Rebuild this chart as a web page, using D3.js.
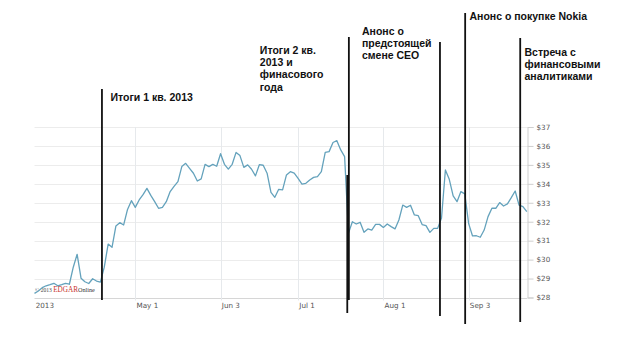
<!DOCTYPE html>
<html>
<head>
<meta charset="utf-8">
<script src="https://cdn.jsdelivr.net/npm/d3@7"></script>
<style>
  html, body { margin: 0; padding: 0; background: #fff; }
  svg { display: block; }
</style>
</head>
<body>
<svg id="chart" width="640" height="346"></svg>
<script>
// MSFT daily closing prices, one value per trading day (late March - late September 2013)
const prices = [
  28.22, 28.34, 28.52, 28.62, 28.68, 28.75, 28.62, 28.68, 28.75, 28.70,
  29.60, 30.28, 29.02, 28.83, 28.74, 28.99, 28.87, 28.81, 29.60, 30.82,
  30.65, 31.78, 31.95, 31.83, 32.65, 33.11, 32.76, 33.15, 33.43, 33.76,
  33.39, 33.06, 32.71, 32.76, 33.06, 33.59, 33.87, 34.12, 34.91, 35.08,
  34.82, 34.56, 34.15, 34.26, 35.03, 34.91, 35.03, 34.93, 35.59, 35.03,
  34.78, 35.03, 35.66, 35.49, 34.87, 35.00, 34.77, 34.42, 35.01, 34.98,
  34.56, 33.55, 33.29, 33.71, 33.68, 34.47, 34.64, 34.56, 34.29, 33.99,
  34.03, 34.20, 34.34, 34.38, 34.64, 35.66, 35.70, 36.18, 36.28, 35.79,
  35.44, 31.40, 32.00, 31.88, 31.97, 31.44, 31.62, 31.56, 31.86, 31.86,
  31.70, 31.88, 31.74, 31.62, 32.09, 32.88, 32.76, 32.87, 32.36, 32.32,
  31.85, 31.79, 31.44, 31.65, 31.65, 32.20, 34.73, 34.24, 33.36, 33.06,
  33.59, 33.47, 31.90, 31.25, 31.26, 31.18, 31.56, 32.27, 32.71, 32.71,
  33.01, 32.83, 32.94, 33.27, 33.62, 32.88, 32.80, 32.53
];

// Date axis: trading-day index of each labelled tick
const tickIndex  = [0, 26, 48, 68, 90, 112];
const tickLabels = ["2013", "May 1", "Jun 3", "Jul 1", "Aug 1", "Sep 3"];

// Price axis ticks (dollars)
const priceTicks = [28, 29, 30, 31, 32, 33, 34, 35, 36, 37];

// Event markers: trading-day position and caption lines
const eventIndex = [17.4, 81.1, 104.6, 111.1, 125.3];
const eventLabels = [
  ["Итоги 1 кв. 2013"],
  ["Итоги 2 кв.", "2013 и", "финасового", "года"],
  ["Анонс о", "предстоящей", "смене CEO"],
  ["Анонс о покупке Nokia"],
  ["Встреча с", "финансовыми", "аналитиками"]
];

// Drawing layout for the event markers (pixels)
const eventLayout = [
  { top: 89, bottom: 300, dx: 8.5,  baseline: 101,  extra: null },
  { top: 37, bottom: 300, dx: -89,  baseline: 54,   extra: { dx: -1.6, top: 175, bottom: 313 } },
  { top: 42, bottom: 316, dx: -78,  baseline: 34.5, extra: null },
  { top: 13, bottom: 324, dx: 4.3,  baseline: 19.5, extra: null },
  { top: 38, bottom: 322, dx: 4.3,  baseline: 55.5, extra: null }
];

const plot = { left: 34.5, right: 526.8, top: 127, bottom: 297.5 };

const svg = d3.select("#chart");

const x = d3.scaleLinear().domain([0, prices.length - 1]).range([plot.left, plot.right]);
const y = d3.scaleLinear().domain([28, 37]).range([plot.bottom, plot.top]);

// Horizontal grid
svg.append("g")
  .selectAll("line")
  .data(priceTicks)
  .join("line")
  .attr("x1", plot.left)
  .attr("x2", plot.right + 0.5)
  .attr("y1", d => Math.round(y(d)) + 0.5)
  .attr("y2", d => Math.round(y(d)) + 0.5)
  .attr("stroke", (d, i) => i === 0 ? "#d6d6d6" : "#ececec")
  .attr("stroke-width", 1);

// Vertical grid at month ticks
svg.append("g")
  .selectAll("line")
  .data(tickIndex.slice(1))
  .join("line")
  .attr("x1", d => Math.round(x(d)) + 0.5)
  .attr("x2", d => Math.round(x(d)) + 0.5)
  .attr("y1", plot.top)
  .attr("y2", plot.bottom + 3)
  .attr("stroke", "#e6e9ec")
  .attr("stroke-width", 1);

// Date labels
svg.append("g")
  .selectAll("text")
  .data(tickIndex)
  .join("text")
  .attr("x", d => x(d) + 1.2)
  .attr("y", 308)
  .attr("font-family", "DejaVu Sans, Verdana, sans-serif")
  .attr("font-size", 7.2)
  .attr("fill", "#555")
  .text((d, i) => tickLabels[i]);

// Right price axis
const yAxis = d3.axisRight(y)
  .tickValues(priceTicks)
  .tickSize(6)
  .tickPadding(3)
  .tickFormat(d => "$" + d);

const yAxisG = svg.append("g")
  .attr("transform", `translate(${Math.round(plot.right) + 0.5},0)`)
  .call(yAxis);
yAxisG.select(".domain").attr("stroke", "#cfcfcf");
yAxisG.selectAll(".tick line").attr("stroke", "#cfcfcf");
yAxisG.selectAll(".tick text")
  .attr("font-family", "DejaVu Sans, Verdana, sans-serif")
  .attr("font-size", 7.2)
  .attr("fill", "#555");

// Source credit
const credit = svg.append("text")
  .attr("x", plot.left + 0.5)
  .attr("y", 292)
  .attr("font-family", "Liberation Serif, Times New Roman, serif");
credit.append("tspan").attr("font-size", 5.6).attr("fill", "#444").text("© 2013 ");
credit.append("tspan").attr("font-size", 7.2).attr("fill", "#c8322d").text("EDGAR");
credit.append("tspan").attr("font-size", 6.2).attr("fill", "#333").text("Online");

// Price line
const line = d3.line()
  .x((d, i) => x(i))
  .y(d => y(d));

svg.append("path")
  .datum(prices)
  .attr("d", line)
  .attr("fill", "none")
  .attr("stroke", "#64a2bc")
  .attr("stroke-width", 1.3)
  .attr("stroke-linejoin", "round");

// Event markers
const ev = svg.append("g");
eventIndex.forEach((idx, k) => {
  const L = eventLayout[k];
  const ex = x(idx);
  ev.append("line")
    .attr("x1", ex).attr("x2", ex)
    .attr("y1", L.top).attr("y2", L.bottom)
    .attr("stroke", "#111").attr("stroke-width", 1.8);
  if (L.extra) {
    ev.append("line")
      .attr("x1", ex + L.extra.dx).attr("x2", ex + L.extra.dx)
      .attr("y1", L.extra.top).attr("y2", L.extra.bottom)
      .attr("stroke", "#111").attr("stroke-width", 1.8);
  }
  const t = ev.append("text")
    .attr("x", ex + L.dx)
    .attr("y", L.baseline)
    .attr("font-family", "Liberation Sans, Arial, sans-serif")
    .attr("font-weight", "bold")
    .attr("font-size", 10.5)
    .attr("fill", "#111");
  eventLabels[k].forEach((s, j) => {
    t.append("tspan")
      .attr("x", ex + L.dx)
      .attr("dy", j === 0 ? 0 : 12.2)
      .text(s);
  });
});
</script>
</body>
</html>
